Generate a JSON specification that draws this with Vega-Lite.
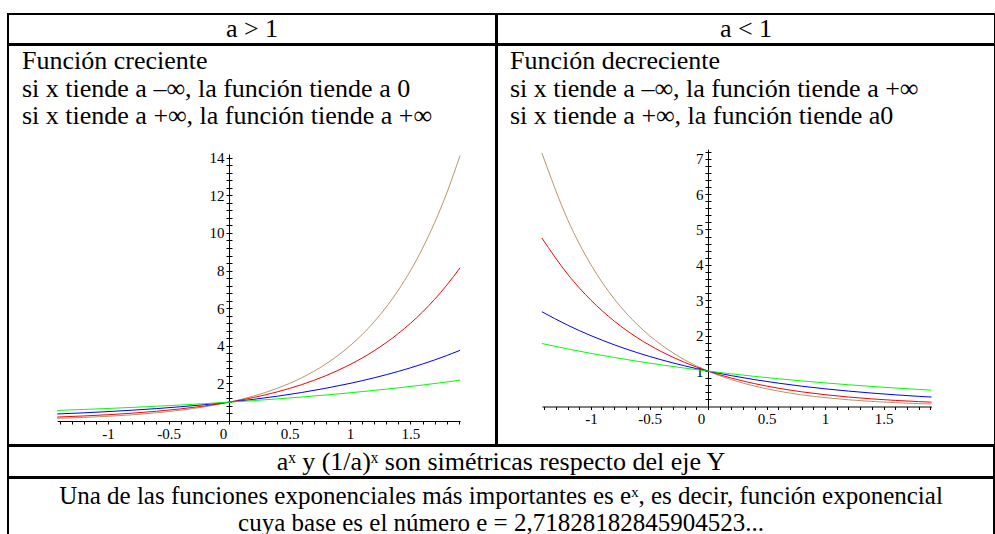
{
  "$schema": "https://vega.github.io/schema/vega-lite/v6.json",
  "padding": {"left": 7, "top": 13, "right": 0, "bottom": 0},
  "background": "white",
  "spacing": -2,
  "config": {
    "view": {"stroke": "#000", "strokeWidth": 2},
    "font": "Liberation Serif",
    "text": {"font": "Liberation Serif", "fontSize": 26, "color": "#000"},
    "axis": {"labelFont": "Liberation Serif", "labelFontSize": 15, "labelColor": "#000", "tickColor": "#000", "domainColor": "#000", "grid": false, "title": null, "labelPadding": 2, "labelFlush": false, "labelOverlap": false, "domainWidth": 1, "tickWidth": 1}
  },
  "datasets": {
    "L": [
      {"a": "4", "x": -1.42, "y": 0.1397}, {"a": "4", "x": -1.2, "y": 0.1895}, {"a": "4", "x": -1, "y": 0.25}, {"a": "4", "x": -0.8, "y": 0.3299}, {"a": "4", "x": -0.6, "y": 0.4353}, {"a": "4", "x": -0.4, "y": 0.5743}, {"a": "4", "x": -0.2, "y": 0.7579}, {"a": "4", "x": 0, "y": 1}, {"a": "4", "x": 0.2, "y": 1.3195}, {"a": "4", "x": 0.4, "y": 1.7411}, {"a": "4", "x": 0.6, "y": 2.2974}, {"a": "4", "x": 0.8, "y": 3.0314}, {"a": "4", "x": 1, "y": 4}, {"a": "4", "x": 1.2, "y": 5.278}, {"a": "4", "x": 1.4, "y": 6.964}, {"a": "4", "x": 1.6, "y": 9.19}, {"a": "4", "x": 1.8, "y": 12.126}, {"a": "4", "x": 1.91, "y": 14.123},
      {"a": "3", "x": -1.42, "y": 0.2101}, {"a": "3", "x": -1.2, "y": 0.2676}, {"a": "3", "x": -1, "y": 0.3333}, {"a": "3", "x": -0.8, "y": 0.4152}, {"a": "3", "x": -0.6, "y": 0.5173}, {"a": "3", "x": -0.4, "y": 0.6444}, {"a": "3", "x": -0.2, "y": 0.8027}, {"a": "3", "x": 0, "y": 1}, {"a": "3", "x": 0.2, "y": 1.2457}, {"a": "3", "x": 0.4, "y": 1.5518}, {"a": "3", "x": 0.6, "y": 1.9332}, {"a": "3", "x": 0.8, "y": 2.4082}, {"a": "3", "x": 1, "y": 3}, {"a": "3", "x": 1.2, "y": 3.7372}, {"a": "3", "x": 1.4, "y": 4.6555}, {"a": "3", "x": 1.6, "y": 5.7995}, {"a": "3", "x": 1.8, "y": 7.2247}, {"a": "3", "x": 1.91, "y": 8.152},
      {"a": "2", "x": -1.42, "y": 0.3737}, {"a": "2", "x": -1.2, "y": 0.4353}, {"a": "2", "x": -1, "y": 0.5}, {"a": "2", "x": -0.8, "y": 0.5743}, {"a": "2", "x": -0.6, "y": 0.6598}, {"a": "2", "x": -0.4, "y": 0.7579}, {"a": "2", "x": -0.2, "y": 0.8706}, {"a": "2", "x": 0, "y": 1}, {"a": "2", "x": 0.2, "y": 1.1487}, {"a": "2", "x": 0.4, "y": 1.3195}, {"a": "2", "x": 0.6, "y": 1.5157}, {"a": "2", "x": 0.8, "y": 1.7411}, {"a": "2", "x": 1, "y": 2}, {"a": "2", "x": 1.2, "y": 2.2974}, {"a": "2", "x": 1.4, "y": 2.639}, {"a": "2", "x": 1.6, "y": 3.0314}, {"a": "2", "x": 1.8, "y": 3.4822}, {"a": "2", "x": 1.91, "y": 3.758},
      {"a": "1.5", "x": -1.42, "y": 0.5623}, {"a": "1.5", "x": -1.2, "y": 0.6147}, {"a": "1.5", "x": -1, "y": 0.6667}, {"a": "1.5", "x": -0.8, "y": 0.723}, {"a": "1.5", "x": -0.6, "y": 0.7841}, {"a": "1.5", "x": -0.4, "y": 0.8503}, {"a": "1.5", "x": -0.2, "y": 0.9221}, {"a": "1.5", "x": 0, "y": 1}, {"a": "1.5", "x": 0.2, "y": 1.0845}, {"a": "1.5", "x": 0.4, "y": 1.1761}, {"a": "1.5", "x": 0.6, "y": 1.2754}, {"a": "1.5", "x": 0.8, "y": 1.3832}, {"a": "1.5", "x": 1, "y": 1.5}, {"a": "1.5", "x": 1.2, "y": 1.6267}, {"a": "1.5", "x": 1.4, "y": 1.7641}, {"a": "1.5", "x": 1.6, "y": 1.9132}, {"a": "1.5", "x": 1.8, "y": 2.0748}, {"a": "1.5", "x": 1.91, "y": 2.1694}
    ],
    "R": [
      {"a": "4", "x": -1.42, "y": 7.16}, {"a": "4", "x": -1.2, "y": 5.278}, {"a": "4", "x": -1, "y": 4}, {"a": "4", "x": -0.8, "y": 3.0314}, {"a": "4", "x": -0.6, "y": 2.2974}, {"a": "4", "x": -0.4, "y": 1.7411}, {"a": "4", "x": -0.2, "y": 1.3195}, {"a": "4", "x": 0, "y": 1}, {"a": "4", "x": 0.2, "y": 0.7579}, {"a": "4", "x": 0.4, "y": 0.5743}, {"a": "4", "x": 0.6, "y": 0.4353}, {"a": "4", "x": 0.8, "y": 0.3299}, {"a": "4", "x": 1, "y": 0.25}, {"a": "4", "x": 1.2, "y": 0.1895}, {"a": "4", "x": 1.4, "y": 0.1436}, {"a": "4", "x": 1.6, "y": 0.1088}, {"a": "4", "x": 1.8, "y": 0.0825}, {"a": "4", "x": 1.91, "y": 0.0708},
      {"a": "3", "x": -1.42, "y": 4.759}, {"a": "3", "x": -1.2, "y": 3.7372}, {"a": "3", "x": -1, "y": 3}, {"a": "3", "x": -0.8, "y": 2.4082}, {"a": "3", "x": -0.6, "y": 1.9332}, {"a": "3", "x": -0.4, "y": 1.5518}, {"a": "3", "x": -0.2, "y": 1.2457}, {"a": "3", "x": 0, "y": 1}, {"a": "3", "x": 0.2, "y": 0.8027}, {"a": "3", "x": 0.4, "y": 0.6444}, {"a": "3", "x": 0.6, "y": 0.5173}, {"a": "3", "x": 0.8, "y": 0.4152}, {"a": "3", "x": 1, "y": 0.3333}, {"a": "3", "x": 1.2, "y": 0.2676}, {"a": "3", "x": 1.4, "y": 0.2148}, {"a": "3", "x": 1.6, "y": 0.1724}, {"a": "3", "x": 1.8, "y": 0.1384}, {"a": "3", "x": 1.91, "y": 0.1227},
      {"a": "2", "x": -1.42, "y": 2.676}, {"a": "2", "x": -1.2, "y": 2.2974}, {"a": "2", "x": -1, "y": 2}, {"a": "2", "x": -0.8, "y": 1.7411}, {"a": "2", "x": -0.6, "y": 1.5157}, {"a": "2", "x": -0.4, "y": 1.3195}, {"a": "2", "x": -0.2, "y": 1.1487}, {"a": "2", "x": 0, "y": 1}, {"a": "2", "x": 0.2, "y": 0.8706}, {"a": "2", "x": 0.4, "y": 0.7579}, {"a": "2", "x": 0.6, "y": 0.6598}, {"a": "2", "x": 0.8, "y": 0.5743}, {"a": "2", "x": 1, "y": 0.5}, {"a": "2", "x": 1.2, "y": 0.4353}, {"a": "2", "x": 1.4, "y": 0.3789}, {"a": "2", "x": 1.6, "y": 0.3299}, {"a": "2", "x": 1.8, "y": 0.2872}, {"a": "2", "x": 1.91, "y": 0.2661},
      {"a": "1.5", "x": -1.42, "y": 1.7785}, {"a": "1.5", "x": -1.2, "y": 1.6267}, {"a": "1.5", "x": -1, "y": 1.5}, {"a": "1.5", "x": -0.8, "y": 1.3832}, {"a": "1.5", "x": -0.6, "y": 1.2754}, {"a": "1.5", "x": -0.4, "y": 1.1761}, {"a": "1.5", "x": -0.2, "y": 1.0845}, {"a": "1.5", "x": 0, "y": 1}, {"a": "1.5", "x": 0.2, "y": 0.9221}, {"a": "1.5", "x": 0.4, "y": 0.8503}, {"a": "1.5", "x": 0.6, "y": 0.7841}, {"a": "1.5", "x": 0.8, "y": 0.723}, {"a": "1.5", "x": 1, "y": 0.6667}, {"a": "1.5", "x": 1.2, "y": 0.6147}, {"a": "1.5", "x": 1.4, "y": 0.5669}, {"a": "1.5", "x": 1.6, "y": 0.5227}, {"a": "1.5", "x": 1.8, "y": 0.482}, {"a": "1.5", "x": 1.91, "y": 0.461}
    ]
  },
  "vconcat": [
    {
      "hconcat": [
        {"width": 488, "height": 30, "data": {"values": [{"t": "a > 1"}]}, "mark": {"type": "text", "baseline": "middle", "align": "center"},
          "encoding": {"text": {"field": "t"}, "x": {"datum": 0.5, "type": "quantitative", "scale": {"domain": [0, 1]}, "axis": null}, "y": {"datum": 0.5, "type": "quantitative", "scale": {"domain": [0, 1]}, "axis": null}}},
        {"width": 498, "height": 30, "data": {"values": [{"t": "a < 1"}]}, "mark": {"type": "text", "baseline": "middle", "align": "center"},
          "encoding": {"text": {"field": "t"}, "x": {"datum": 0.5, "type": "quantitative", "scale": {"domain": [0, 1]}, "axis": null}, "y": {"datum": 0.5, "type": "quantitative", "scale": {"domain": [0, 1]}, "axis": null}}}
      ],
      "spacing": -2
    },
    {
      "hconcat": [
        {
          "width": 488, "height": 400,
          "title": {"text": ["Función creciente", "si x tiende a –∞, la función tiende a 0", "si x tiende a +∞, la función tiende a +∞"], "anchor": "start", "frame": "group", "orient": "top", "offset": -84, "baseline": "top", "dx": 14, "font": "Liberation Serif", "fontSize": 26, "fontWeight": "normal", "color": "#000", "lineHeight": 27.5},
          "data": {"name": "L"},
          "layer": [
            {
              "mark": {"type": "line", "strokeWidth": 1, "interpolate": "monotone"},
              "encoding": {
                "x": {"field": "x", "type": "quantitative", "scale": {"domain": [-1.42, 1.91], "range": [49.2, 452.1], "nice": false, "zero": false},
                  "axis": {"orient": "bottom", "offset": -24, "values": [-1, -0.5, 0, 0.5, 1, 1.5], "format": "~g", "tickSize": 3, "labelOffset": {"condition": {"test": "datum.value == 0", "value": -6}, "value": 0}, "labelExpr": "replace(datum.label, '−', '-')"}},
                "y": {"field": "y", "type": "quantitative", "scale": {"domain": [0, 14.2], "range": [376, 109], "nice": false, "zero": false},
                  "axis": {"orient": "left", "offset": -221, "values": [2, 4, 6, 8, 10, 12, 14], "format": "~g", "tickSize": 3}},
                "color": {"field": "a", "type": "nominal", "scale": {"domain": ["1.5", "2", "3", "4"], "range": ["#00ff00", "#0000ff", "#ff0000", "#b8956a"]}, "legend": null}
              }
            },
            {
              "mark": {"type": "line", "strokeOpacity": 0},
              "encoding": {
                "x": {"field": "x", "type": "quantitative",
                  "axis": {"orient": "bottom", "offset": -24, "values": [-1.4,-1.3,-1.2,-1.1,-0.9,-0.8,-0.7,-0.6,-0.4,-0.3,-0.2,-0.1,0.1,0.2,0.3,0.4,0.6,0.7,0.8,0.9,1.1,1.2,1.3,1.4,1.6,1.7,1.8,1.9], "tickSize": 3, "labels": false, "domain": false}},
                "y": {"field": "y", "type": "quantitative",
                  "axis": {"orient": "left", "offset": -221, "values": [0.4,0.8,1.2,1.6,2.4,2.8,3.2,3.6,4.4,4.8,5.2,5.6,6.4,6.8,7.2,7.6,8.4,8.8,9.2,9.6,10.4,10.8,11.2,11.6,12.4,12.8,13.2,13.6], "tickSize": 3, "labels": false, "domain": false}},
                "detail": {"field": "a"}
              }
            },
            {
              "mark": {"type": "line", "strokeOpacity": 0},
              "encoding": {
                "x": {"field": "x", "type": "quantitative", "axis": null},
                "y": {"field": "y", "type": "quantitative",
                  "axis": {"orient": "left", "offset": -221, "values": [0.4,0.8,1.2,1.6,2,2.4,2.8,3.2,3.6,4,4.4,4.8,5.2,5.6,6,6.4,6.8,7.2,7.6,8,8.4,8.8,9.2,9.6,10,10.4,10.8,11.2,11.6,12,12.4,12.8,13.2,13.6,14], "tickSize": -3, "labels": false, "domain": false}},
                "detail": {"field": "a"}
              }
            }
          ],
          "resolve": {"axis": {"x": "independent", "y": "independent"}}
        },
        {
          "width": 498, "height": 400,
          "title": {"text": ["Función decreciente", "si x tiende a –∞, la función tiende a +∞", "si x tiende a +∞, la función tiende a0"], "anchor": "start", "frame": "group", "orient": "top", "offset": -84, "baseline": "top", "dx": 13, "font": "Liberation Serif", "fontSize": 26, "fontWeight": "normal", "color": "#000", "lineHeight": 27.5},
          "data": {"name": "R"},
          "layer": [
            {
              "mark": {"type": "line", "strokeWidth": 1, "interpolate": "monotone"},
              "encoding": {
                "x": {"field": "x", "type": "quantitative", "scale": {"domain": [-1.42, 1.91], "range": [44.9, 434.5], "nice": false, "zero": false},
                  "axis": {"orient": "bottom", "offset": -38.5, "values": [-1, -0.5, 0, 0.5, 1, 1.5], "format": "~g", "tickSize": 3, "labelOffset": {"condition": {"test": "datum.value == 0", "value": -7}, "value": 0}, "labelExpr": "replace(datum.label, '−', '-')"}},
                "y": {"field": "y", "type": "quantitative", "scale": {"domain": [0, 7.27], "range": [361.5, 104.1], "nice": false, "zero": false},
                  "axis": {"orient": "left", "offset": -211, "values": [1, 2, 3, 4, 5, 6, 7], "format": "~g", "tickSize": 3}},
                "color": {"field": "a", "type": "nominal", "scale": {"domain": ["1.5", "2", "3", "4"], "range": ["#00ff00", "#0000ff", "#ff0000", "#b8956a"]}, "legend": null}
              }
            },
            {
              "mark": {"type": "line", "strokeOpacity": 0},
              "encoding": {
                "x": {"field": "x", "type": "quantitative",
                  "axis": {"orient": "bottom", "offset": -38.5, "values": [-1.4,-1.3,-1.2,-1.1,-0.9,-0.8,-0.7,-0.6,-0.4,-0.3,-0.2,-0.1,0.1,0.2,0.3,0.4,0.6,0.7,0.8,0.9,1.1,1.2,1.3,1.4,1.6,1.7,1.8,1.9], "tickSize": 3, "labels": false, "domain": false}},
                "y": {"field": "y", "type": "quantitative",
                  "axis": {"orient": "left", "offset": -211, "values": [0.2,0.4,0.6,0.8,1.2,1.4,1.6,1.8,2.2,2.4,2.6,2.8,3.2,3.4,3.6,3.8,4.2,4.4,4.6,4.8,5.2,5.4,5.6,5.8,6.2,6.4,6.6,6.8,7.2], "tickSize": 3, "labels": false, "domain": false}},
                "detail": {"field": "a"}
              }
            },
            {
              "mark": {"type": "line", "strokeOpacity": 0},
              "encoding": {
                "x": {"field": "x", "type": "quantitative", "axis": null},
                "y": {"field": "y", "type": "quantitative",
                  "axis": {"orient": "left", "offset": -211, "values": [0.2,0.4,0.6,0.8,1,1.2,1.4,1.6,1.8,2,2.2,2.4,2.6,2.8,3,3.2,3.4,3.6,3.8,4,4.2,4.4,4.6,4.8,5,5.2,5.4,5.6,5.8,6,6.2,6.4,6.6,6.8,7,7.2], "tickSize": -3, "labels": false, "domain": false}},
                "detail": {"field": "a"}
              }
            }
          ],
          "resolve": {"axis": {"x": "independent", "y": "independent"}}
        }
      ],
      "spacing": -2
    },
    {"width": 986, "height": 31, "data": {"values": [{"t": "aˣ y (1/a)ˣ son simétricas respecto del eje Y"}]}, "mark": {"type": "text", "baseline": "middle", "align": "center"},
      "encoding": {"text": {"field": "t"}, "x": {"datum": 0.5, "type": "quantitative", "scale": {"domain": [0, 1]}, "axis": null}, "y": {"datum": 0.5, "type": "quantitative", "scale": {"domain": [0, 1]}, "axis": null}}},
    {"width": 986, "height": 60, "data": {"values": [{"t": "Una de las funciones exponenciales más importantes es eˣ, es decir, función exponencial\ncuya base es el número e = 2,71828182845904523..."}]}, "mark": {"type": "text", "baseline": "middle", "align": "center", "lineBreak": "\n", "lineHeight": 27, "dy": -12, "fontSize": 25},
      "encoding": {"text": {"field": "t"}, "x": {"datum": 0.5, "type": "quantitative", "scale": {"domain": [0, 1]}, "axis": null}, "y": {"datum": 0.5, "type": "quantitative", "scale": {"domain": [0, 1]}, "axis": null}}}
  ]
}
